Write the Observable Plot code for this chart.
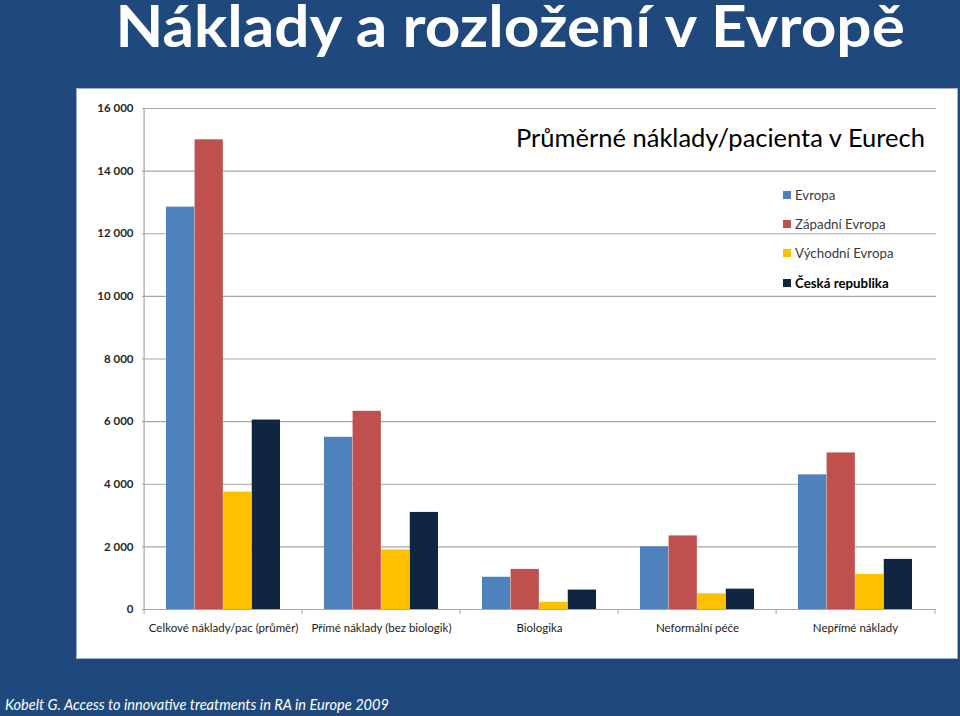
<!DOCTYPE html>
<html>
<head>
<meta charset="utf-8">
<script src="https://cdn.jsdelivr.net/npm/d3@7"></script>
<script src="https://cdn.jsdelivr.net/npm/@observablehq/plot@0.6"></script>
<style>
  html, body { margin: 0; padding: 0; }
  body { width: 960px; height: 716px; background: #1F497D; position: relative; overflow: hidden; font-family: Lato, "Open Sans", sans-serif; }
  #title { position: absolute; left: 60px; top: 0; width: 900px; text-align: center; color: #fff; font-weight: bold; font-size: 57px; line-height: 50px; white-space: nowrap; }
  #title span { display: inline-block; transform: scaleX(1.09); transform-origin: center; }
  #panel { position: absolute; left: 77px; top: 89px; width: 880px; height: 569px; background: #fff; box-shadow: 0 0 0 1px #9fb0c8; }
  #panel svg { position: absolute; left: 0; top: 0; font-family: Lato, sans-serif; }
  #subtitle { position: absolute; left: 439px; top: 33px; font-size: 25.5px; color: #000; white-space: nowrap; }
  #legend { position: absolute; left: 706px; top: 91px; }
  .item { height: 29.3px; display: flex; align-items: center; font-size: 13.3px; color: #3a3a3a; white-space: nowrap; }
  .sw { width: 8px; height: 8px; margin-right: 4px; }
  #caption { position: absolute; left: 5px; top: 696px; color: #fff; font-style: italic; font-size: 14.6px; white-space: nowrap; }
</style>
</head>
<body>
<div id="title"><span>Náklady a rozložení v Evropě</span></div>
<div id="panel">
  <div id="subtitle">Průměrné náklady/pacienta v Eurech</div>
  <div id="legend"></div>
</div>
<div id="caption">Kobelt G. Access to innovative treatments in RA in Europe 2009</div>
<script>
const categories = ["Celkové náklady/pac (průměr)", "Přímé náklady (bez biologik)", "Biologika", "Neformální péče", "Nepřímé náklady"];
const series = ["Evropa", "Západní Evropa", "Východní Evropa", "Česká republika"];
const evropa   = [12850, 5500, 1030, 2000, 4300];
const zapadni  = [15000, 6330, 1280, 2350, 5000];
const vychodni = [3750, 1900, 230, 500, 1120];
const ceska    = [6050, 3100, 620, 650, 1600];
const yTicks = [0, 2000, 4000, 6000, 8000, 10000, 12000, 14000, 16000];
const yTickLabels = ["0", "2 000", "4 000", "6 000", "8 000", "10 000", "12 000", "14 000", "16 000"];
const colors = ["#4F81BD", "#C0504D", "#FFC000", "#10253F"];

const values = [evropa, zapadni, vychodni, ceska];
const rows = categories.flatMap((c, i) => series.map((s, k) => ({category: c, series: s, value: values[k][i]})));

const W = 880, H = 569, ml = 65, mr = 21, mt = 19, mb = 49;
const pIn = 0.28, pOut = 0.14;
const n = categories.length;
const step = (W - ml - mr) / (n - pIn + 2 * pOut);
const bw = step * (1 - pIn);
const sub = bw / series.length;
const grid = "#a6a6a6";

const barMarks = series.map((s, k) =>
  Plot.barY(rows.filter(r => r.series === s), {
    x: "category", y: "value", fill: colors[k],
    insetLeft: k * sub, insetRight: (series.length - 1 - k) * sub
  })
);

const chart = Plot.plot({
  width: W, height: H,
  marginLeft: ml, marginRight: mr, marginTop: mt, marginBottom: mb,
  style: {background: "transparent", fontFamily: "Lato, sans-serif"},
  x: {type: "band", domain: categories, paddingInner: pIn, paddingOuter: pOut, label: null},
  y: {domain: [0, 16000], label: null},
  marks: [
    Plot.ruleY(yTicks, {stroke: grid, strokeWidth: 1.2}),
    ...barMarks,
    Plot.ruleX([categories[0]], {dx: -step / 2, y1: 0, y2: 16000, stroke: grid, strokeWidth: 1.2}),
    Plot.ruleX(categories, {dx: -step / 2, y1: 0, y2: 0, insetBottom: -5, stroke: grid}),
    Plot.ruleX([categories[n - 1]], {dx: step / 2, y1: 0, y2: 0, insetBottom: -5, stroke: grid}),
    Plot.axisY({ticks: yTicks, tickFormat: d => yTickLabels[yTicks.indexOf(d)], tickSize: 0, tickPadding: 9, fontSize: 11.5, fontWeight: "bold", fill: "#262626"}),
    Plot.axisX({tickSize: 0, tickPadding: 14, fontSize: 11.5, fill: "#1a1a1a"})
  ]
});
document.getElementById("panel").prepend(chart);

const legend = document.getElementById("legend");
series.forEach((s, k) => {
  const d = document.createElement("div");
  d.className = "item";
  if (k === 3) { d.style.fontWeight = "bold"; d.style.color = "#000"; }
  d.innerHTML = `<div class="sw" style="background:${colors[k]}"></div><span>${s}</span>`;
  legend.appendChild(d);
});
</script>
</body>
</html>
